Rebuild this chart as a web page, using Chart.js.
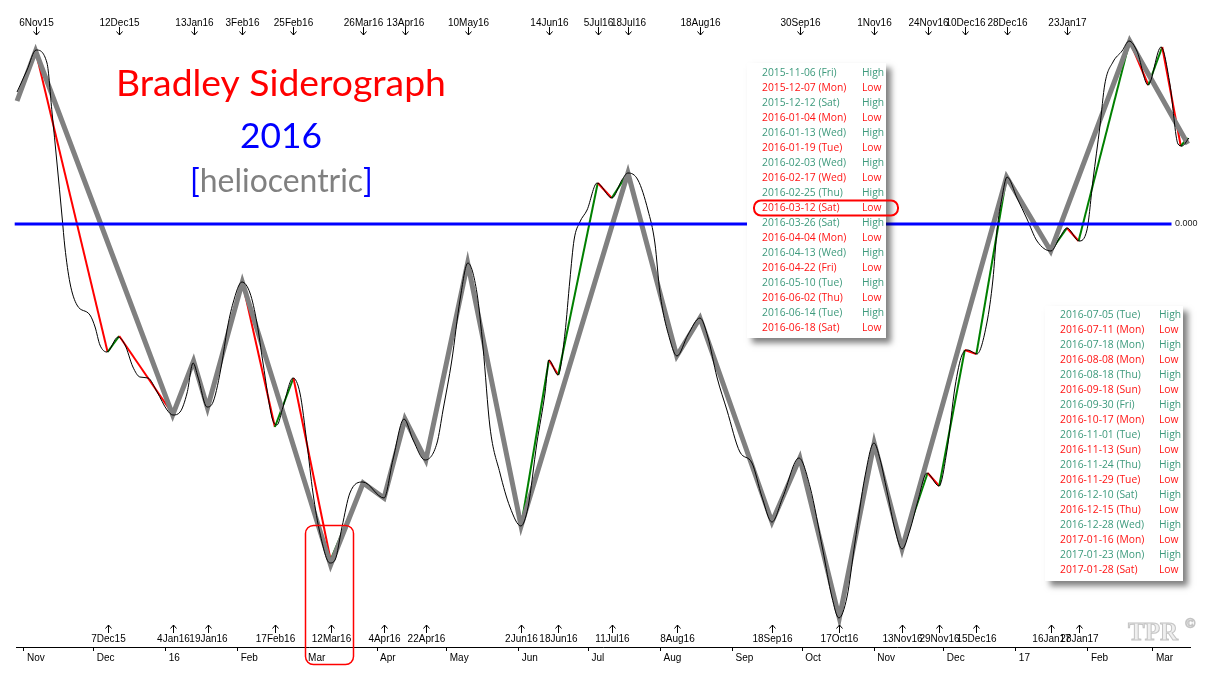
<!DOCTYPE html>
<html>
<head>
<meta charset="utf-8">
<script src="https://cdn.jsdelivr.net/npm/chart.js@4.4.1/dist/chart.umd.min.js"></script>
<style>
  html, body { margin: 0; padding: 0; background: #fff; }
  #wrap { width: 1220px; height: 680px; }
</style>
</head>
<body>
<div id="wrap"><canvas id="chart" width="1220" height="680"></canvas></div>
<script>
// x values are days counted from 2015-11-01
const START = Date.UTC(2015, 10, 1);

// turning points listed in the two boxes (they alternate High / Low)
const turnDates = [
  "2015-11-06", "2015-12-07", "2015-12-12", "2016-01-04", "2016-01-13", "2016-01-19",
  "2016-02-03", "2016-02-17", "2016-02-25", "2016-03-12", "2016-03-26", "2016-04-04",
  "2016-04-13", "2016-04-22", "2016-05-10", "2016-06-02", "2016-06-14", "2016-06-18",
  "2016-07-05", "2016-07-11", "2016-07-18", "2016-08-08", "2016-08-18", "2016-09-18",
  "2016-09-30", "2016-10-17", "2016-11-01", "2016-11-13", "2016-11-24", "2016-11-29",
  "2016-12-10", "2016-12-15", "2016-12-28", "2017-01-16", "2017-01-23", "2017-01-28"
];
const turnTypes = [
  "High", "Low", "High", "Low", "High", "Low", "High", "Low", "High", "Low", "High", "Low",
  "High", "Low", "High", "Low", "High", "Low", "High", "Low", "High", "Low", "High", "Low",
  "High", "Low", "High", "Low", "High", "Low", "High", "Low", "High", "Low", "High", "Low"
];
const turnValues = [
  173, -128, -112, -190, -137, -184, -58, -203, -154, -336, -259, -274,
  -195, -236, -39, -302, -136, -151, 41, 26, 51, -132, -94, -298,
  -234, -394, -219, -325, -249, -262, -126, -130, 47, -27, -4, -17
];

// the red/green swing line goes on past the last listed turn
const swingTailDates = ["2017-02-19", "2017-02-27", "2017-03-05", "2017-03-13", "2017-03-16"];
const swingTailValues = [183, 139, 177, 78, 86];

// thick grey zigzag
const zigDates = [
  "2015-10-29", "2015-11-06", "2016-01-04", "2016-01-13", "2016-01-19", "2016-02-03",
  "2016-03-12", "2016-03-26", "2016-04-04", "2016-04-13", "2016-04-22", "2016-05-10",
  "2016-06-02", "2016-07-18", "2016-08-08", "2016-08-18", "2016-09-18", "2016-09-30",
  "2016-10-17", "2016-11-01", "2016-11-13", "2016-12-28", "2017-01-16", "2017-02-19",
  "2017-03-16"
];
const zigValues = [
  123, 173, -191, -137, -184, -58, -341, -259, -274, -195, -236, -39,
  -302, 51, -132, -94, -298, -234, -394, -219, -325, 47, -27, 183, 80
];

// thin black siderograph curve
const curveDay = [
  -3.0, 1.3, 5.2, 9.9, 12.1, 14.2, 16.4, 17.6, 19.8, 22.8, 28.4, 30.6, 32.7, 35.7,
  40.5, 43.5, 46.9, 49.9, 53.4, 57.3, 61.6, 64.1, 67.2, 70.2, 72.8, 74.9, 78.8, 81.4,
  85.2, 87.4, 90.0, 93.8, 97.3, 100.3, 102.9, 106.8, 108.9, 111.5, 115.8, 118.8, 121.8,
  124.4, 127.4, 131.7, 133.9, 136.9, 140.3, 145.9, 155.0, 158.8, 163.6, 167.5, 172.6,
  177.8, 180.4, 184.2, 187.7, 191.1, 195.0, 197.6, 200.6, 204.9, 209.2, 213.9, 217.0,
  220.8, 224.3, 226.0, 229.9, 232.9, 235.0, 236.8, 239.3, 242.4, 246.7, 253.1, 257.4,
  260.0, 264.3, 268.6, 271.6, 273.8, 278.1, 281.1, 285.8, 291.0, 294.4, 298.3, 302.6,
  308.2, 313.4, 317.7, 322.0, 326.7, 333.6, 338.4, 343.9, 347.8, 350.8, 354.3, 357.7,
  362.0, 365.9, 368.5, 371.5, 375.0, 378.0, 381.4, 384.8, 388.7, 393.9, 397.3, 400.8,
  403.8, 406.4, 410.2, 414.5, 417.1, 418.9, 421.0, 423.2, 427.5, 431.8, 436.1, 442.1,
  446.0, 449.0, 454.2, 457.6, 460.2, 463.2, 465.3, 468.8, 472.7, 475.7, 479.1, 483.9,
  489.5, 493.3, 496.8, 498.5, 501.5
];
const curveValue = [
  132, 154, 174, 161, 111, 61, 7, -23, -59, -81, -91, -103, -121, -128,
  -113, -121, -143, -153, -154, -168, -186, -191, -188, -169, -139, -153, -183, -178,
  -139, -106, -79, -58, -69, -99, -139, -194, -201, -183, -154, -169, -219,
  -269, -309, -339, -336, -303, -269, -258, -274, -236, -195, -216, -236,
  -219, -186, -136, -76, -39, -69, -123, -203, -249, -283, -302, -283,
  -219, -169, -136, -151, -109, -56, -16, 2, 14, 41, 26, 44,
  51, 44, 14, -19, -69, -116, -132, -111, -94, -113, -153, -186,
  -228, -239, -273, -298, -273, -234, -263, -326, -373, -394, -373, -319,
  -253, -219, -235, -267, -306, -325, -306, -277, -249, -262, -227, -163,
  -131, -126, -130, -99, -56, -6, 26, 47, 26, 5, -17, -27,
  -13, -4, -17, -6, 44, 98, 140, 162, 173, 183, 173, 139,
  177, 140, 80, 78, 86
];

// zero line and axis
const zeroLineDates = ["2015-10-28", "2017-03-09"];
const monthDates = [
  "2015-11-01", "2015-12-01", "2016-01-01", "2016-02-01", "2016-03-01", "2016-04-01",
  "2016-05-01", "2016-06-01", "2016-07-01", "2016-08-01", "2016-09-01", "2016-10-01",
  "2016-11-01", "2016-12-01", "2017-01-01", "2017-02-01", "2017-03-01"
];
const monthLabels = ["Nov", "Dec", "16", "Feb", "Mar", "Apr", "May", "Jun", "Jul", "Aug",
                     "Sep", "Oct", "Nov", "Dec", "17", "Feb", "Mar"];
const markedLow = "2016-03-12";

const MON = ["Jan", "Feb", "Mar", "Apr", "May", "Jun", "Jul", "Aug", "Sep", "Oct", "Nov", "Dec"];
const WDAY = ["Sun", "Mon", "Tue", "Wed", "Thu", "Fri", "Sat"];

const dayOf = s => (Date.parse(s + "T00:00:00Z") - START) / 864e5;
const shortLabel = s => {
  const [y, m, d] = s.split("-").map(Number);
  return d + MON[m - 1] + String(y).slice(2);
};
const weekday = s => WDAY[new Date(s + "T00:00:00Z").getUTCDay()];

const RED = "#ff0000", GREEN = "#008000";
const HIGH_TXT = "#3d9a7c", LOW_TXT = "#ff1414";

const swingPts = turnDates.map((d, i) => ({ x: dayOf(d), y: turnValues[i] }))
  .concat(swingTailDates.map((d, i) => ({ x: dayOf(d), y: swingTailValues[i] })));
const zigPts = zigDates.map((d, i) => ({ x: dayOf(d), y: zigValues[i] }));
const curvePts = curveDay.map((d, i) => ({ x: d, y: curveValue[i] }));
const zeroPts = zeroLineDates.map(d => ({ x: dayOf(d), y: 0 }));

function roundRect(ctx, x, y, w, h, r) {
  ctx.beginPath();
  ctx.moveTo(x + r, y);
  ctx.arcTo(x + w, y, x + w, y + h, r);
  ctx.arcTo(x + w, y + h, x, y + h, r);
  ctx.arcTo(x, y + h, x, y, r);
  ctx.arcTo(x, y, x + w, y, r);
  ctx.closePath();
}

function fitSize(ctx, text, family, target) {
  ctx.font = "100px " + family;
  return 100 * target / ctx.measureText(text).width;
}

function drawArrow(ctx, px, y0, y1, down) {
  const tip = down ? y1 : y0, dir = down ? -1 : 1;
  ctx.beginPath();
  ctx.moveTo(px, y0);
  ctx.lineTo(px, y1);
  ctx.moveTo(px - 3, tip + dir * 3.5);
  ctx.lineTo(px, tip);
  ctx.lineTo(px + 3, tip + dir * 3.5);
  ctx.stroke();
}

function drawBox(ctx, idx, bx, by, bw, bh, dateX, typeX, rowY) {
  ctx.save();
  ctx.shadowColor = "rgba(0,0,0,0.5)";
  ctx.shadowBlur = 6;
  ctx.shadowOffsetX = 5;
  ctx.shadowOffsetY = 5;
  ctx.fillStyle = "#fff";
  ctx.fillRect(bx, by, bw, bh);
  ctx.restore();
  ctx.font = '10.3px "Open Sans"';
  ctx.textBaseline = "middle";
  ctx.textAlign = "left";
  idx.forEach((k, i) => {
    const y = rowY + i * 15;
    ctx.fillStyle = turnTypes[k] === "High" ? HIGH_TXT : LOW_TXT;
    ctx.fillText(turnDates[k] + " (" + weekday(turnDates[k]) + ")", dateX, y);
    ctx.fillText(turnTypes[k], typeX, y);
  });
}

const decor = {
  id: "decor",
  beforeDatasetsDraw(chart) {
    const ctx = chart.ctx;
    ctx.save();
    ctx.textAlign = "center";
    ctx.textBaseline = "alphabetic";
    let s = fitSize(ctx, "Bradley Siderograph", "Lato", 330);
    ctx.font = s + "px Lato";
    ctx.fillStyle = "#ff0000";
    ctx.fillText("Bradley Siderograph", 281, 96);
    s = fitSize(ctx, "2016", "Lato", 82);
    ctx.font = s + "px Lato";
    ctx.fillStyle = "#0000ff";
    ctx.fillText("2016", 281, 148);
    s = fitSize(ctx, "[heliocentric]", "Lato", 182);
    ctx.font = s + "px Lato";
    ctx.textAlign = "left";
    const wb = ctx.measureText("[").width, wt = ctx.measureText("heliocentric").width;
    let x0 = 281 - 91;
    ctx.fillStyle = "#0000ff";
    ctx.fillText("[", x0, 192);
    ctx.fillStyle = "#808080";
    ctx.fillText("heliocentric", x0 + wb, 192);
    ctx.fillStyle = "#0000ff";
    ctx.fillText("]", x0 + wb + wt, 192);
    ctx.restore();
  },
  afterDatasetsDraw(chart) {
    const ctx = chart.ctx, x = chart.scales.x;
    ctx.save();
    // turn markers above and below the plot
    ctx.strokeStyle = "#000";
    ctx.lineWidth = 1;
    ctx.fillStyle = "#000";
    ctx.font = '10px "Liberation Sans"';
    ctx.textAlign = "center";
    ctx.textBaseline = "middle";
    turnDates.forEach((d, i) => {
      const px = Math.round(x.getPixelForValue(dayOf(d))) + 0.5;
      if (turnTypes[i] === "High") {
        ctx.fillText(shortLabel(d), px, 23);
        drawArrow(ctx, px, 27, 35, true);
      } else {
        drawArrow(ctx, px, 625, 633, false);
        ctx.fillText(shortLabel(d), px, 639);
      }
    });
    // zero label
    ctx.font = '9px "Liberation Sans"';
    ctx.textAlign = "left";
    ctx.fillStyle = "#222";
    ctx.fillText("0.000", 1175, chart.scales.y.getPixelForValue(0));
    // the two turn lists
    const all = turnDates.map((_, i) => i);
    drawBox(ctx, all.slice(0, 18), 747, 63, 139, 275, 762, 862, 73);
    drawBox(ctx, all.slice(18), 1045, 306, 138, 275, 1060, 1159, 315);
    // highlight of the marked low in the list
    const k = turnDates.indexOf(markedLow);
    ctx.strokeStyle = RED;
    ctx.lineWidth = 2;
    roundRect(ctx, 754, 73 + k * 15 - 7.5, 144, 15, 7);
    ctx.stroke();
    ctx.restore();
  },
  afterDraw(chart) {
    const ctx = chart.ctx, x = chart.scales.x;
    ctx.save();
    const px = x.getPixelForValue(dayOf(markedLow));
    ctx.strokeStyle = RED;
    ctx.lineWidth = 1.5;
    roundRect(ctx, Math.round(px) - 25.5, 525.5, 48, 139, 8);
    ctx.stroke();
    // watermark
    ctx.font = 'bold 25px "Liberation Serif"';
    ctx.textAlign = "left";
    ctx.textBaseline = "alphabetic";
    ctx.fillStyle = "#efefef";
    ctx.strokeStyle = "#c4c4c4";
    ctx.lineWidth = 1;
    ctx.fillText("TPR", 1128, 640);
    ctx.strokeText("TPR", 1128, 640);
    ctx.font = 'bold 14px "Liberation Serif"';
    ctx.fillText("©", 1185, 628);
    ctx.strokeText("©", 1185, 628);
    ctx.restore();
  }
};

new Chart(document.getElementById("chart"), {
  type: "line",
  data: {
    datasets: [
      { data: zeroPts, borderColor: "#0000ff", borderWidth: 3, order: 0 },
      { data: curvePts, borderColor: "#000", borderWidth: 1, cubicInterpolationMode: "monotone", order: 1 },
      { data: zigPts, borderColor: "#808080", borderWidth: 5, borderJoinStyle: "miter", order: 2 },
      {
        data: swingPts, borderWidth: 2, order: 3, borderColor: GREEN,
        segment: { borderColor: c => c.p1.parsed.y < c.p0.parsed.y ? RED : GREEN }
      }
    ]
  },
  options: {
    responsive: false,
    animation: false,
    clip: false,
    layout: { padding: { left: 16, right: 30, top: 0, bottom: 0 } },
    elements: { point: { radius: 0 }, line: { tension: 0 } },
    scales: {
      x: {
        type: "linear",
        min: -3.44,
        max: 501.96,
        afterBuildTicks: s => { s.ticks = monthDates.map(d => ({ value: dayOf(d) })); },
        afterFit: s => { s.height = 33; s.paddingLeft = 0; s.paddingRight = 0; },
        ticks: {
          autoSkip: false, maxRotation: 0, minRotation: 0, align: "start", labelOffset: 3,
          padding: 1, color: "#000", font: { family: "Liberation Sans", size: 10 },
          callback: (v, i) => monthLabels[i]
        },
        grid: { drawOnChartArea: false, drawTicks: true, tickLength: 4, color: "#000" },
        border: { display: true, color: "#000", width: 1 }
      },
      y: { display: false, min: -423, max: 224 }
    },
    plugins: { legend: { display: false }, tooltip: { enabled: false } }
  },
  plugins: [decor]
});
</script>
</body>
</html>
